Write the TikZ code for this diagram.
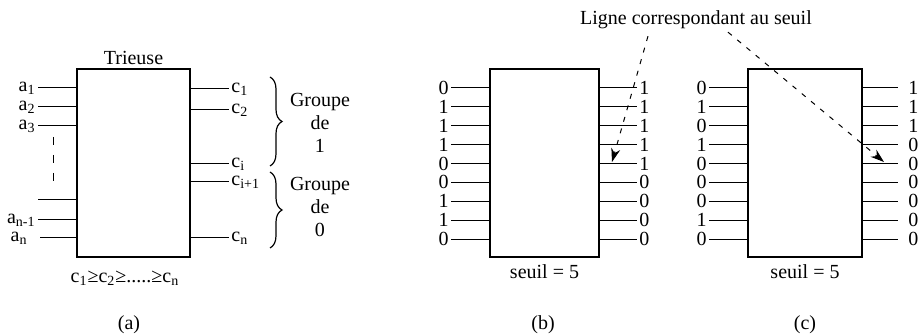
\documentclass[tikz,border=0pt]{standalone}
\usepackage{fontspec}
\setmainfont{Liberation Serif}
\usetikzlibrary{arrows.meta, positioning, decorations.pathreplacing}

\begin{document}
\begin{tikzpicture}[
    x=0.5pt, y=-0.5pt,
    font=\fontsize{10}{11.5}\selectfont,
    trieuse/.style={rectangle, draw, line width=0.9pt, inner sep=0pt, minimum height=94pt},
    fil/.style={line width=0.5pt},
    lab/.style={inner sep=1pt},
    groupe/.style={decorate, decoration={brace, amplitude=6pt}, line width=0.6pt},
    seuilarr/.style={dash pattern=on 2.5pt off 3.5pt, line width=0.5pt, -{Stealth[length=2.4mm, width=1.6mm]}}
]
\useasboundingbox (0,0) rectangle (918,336);

% (a) trieuse generale
\node[trieuse, minimum width=56.5pt] (ta) at (133.5,163) {};
\node[above=0pt of ta, inner sep=1.5pt] (titre) {Trieuse};

\node[lab, anchor=east] (a1)  at (38,88)  {a\textsubscript{1}};
\node[lab, anchor=east] (a2)  at (38,107) {a\textsubscript{2}};
\node[lab, anchor=east] (a3)  at (38,126) {a\textsubscript{3}};
\coordinate (ax) at (38,200);
\node[lab, anchor=east] (an1) at (38,220) {a\textsubscript{n-1}};
\node[lab, anchor=east] (an)  at (30,238) {a\textsubscript{n}};
\foreach \n in {a1,a2,a3,ax,an1}
  \draw[fil] (\n) -- (\n -| ta.west);
\draw[fil] ([xshift=5pt]an.east) -- (an.east -| ta.west);
\draw[fil, dash pattern=on 4pt off 5pt] (53,137) -- (53,190);

\foreach \n/\y/\t in {c1/89/c\textsubscript{1}, c2/110/c\textsubscript{2}, ci/164/c\textsubscript{i},
                      ci1/182/c\textsubscript{i+1}, cn/238/c\textsubscript{n}} {
  \node[lab, anchor=west] (\n) at (229,\y) {\t};
  \draw[fil] (ta.east |- \n) -- (\n);
}

% groupes
\draw[groupe] (270,77) -- (270,166);
\draw[groupe] (270,172) -- (270,248);
\node[align=center] (g1) at (320,123) {Groupe\\de\\1};
\node[align=center] (g0) at (320,207) {Groupe\\de\\0};

\node (ordre) at (125,278) {c\textsubscript{1}≥c\textsubscript{2}≥.....≥c\textsubscript{n}};
\node (la) at (129,325) {(a)};

% (b) exemple
\node[trieuse, minimum width=54.5pt] (tb) at (544.5,163) {};
\foreach \v [count=\k] in {0,1,1,1,0,0,1,1,0} {
  \node[lab, anchor=east] (bi\k) at (451,69+18.9*\k) {\v};
  \draw[fil] (bi\k) -- (bi\k -| tb.west);
}
\foreach \v [count=\k] in {1,1,1,1,1,0,0,0,0} {
  \node[lab, anchor=west] (bo\k) at (637,69+18.9*\k) {\v};
  \draw[fil] (tb.east |- bo\k) -- (bo\k);
}
\node[below=0pt of tb] (sb) {seuil = 5};
\node (lb) at (543,325) {(b)};

% (c) exemple
\node[trieuse, minimum width=57pt] (tc) at (805,163) {};
\foreach \v [count=\k] in {0,1,0,1,0,0,0,1,0} {
  \node[lab, anchor=east] (ci\k) at (709,69+18.9*\k) {\v};
  \draw[fil] (ci\k) -- (ci\k -| tc.west);
}
\foreach \v [count=\k] in {1,1,1,0,0,0,0,0,0} {
  \node[lab, anchor=west] (co\k) at (906,69+18.9*\k) {\v};
  \draw[fil] (tc.east |- co\k) -- ([xshift=-4pt]co\k.west);
}
\node[below=0pt of tc] (sc) {seuil = 5};
\node (lc) at (805,325) {(c)};

% ligne du seuil
\node (ligne) at (696,20) {Ligne correspondant au seuil};
\coordinate (pb) at (612,162);
\coordinate (pc) at (884,162);
\draw[seuilarr] ([xshift=-24pt]ligne.south) -- (pb);
\draw[seuilarr] ([xshift=16pt, yshift=2pt]ligne.south) -- (pc);
\end{tikzpicture}
\end{document}
